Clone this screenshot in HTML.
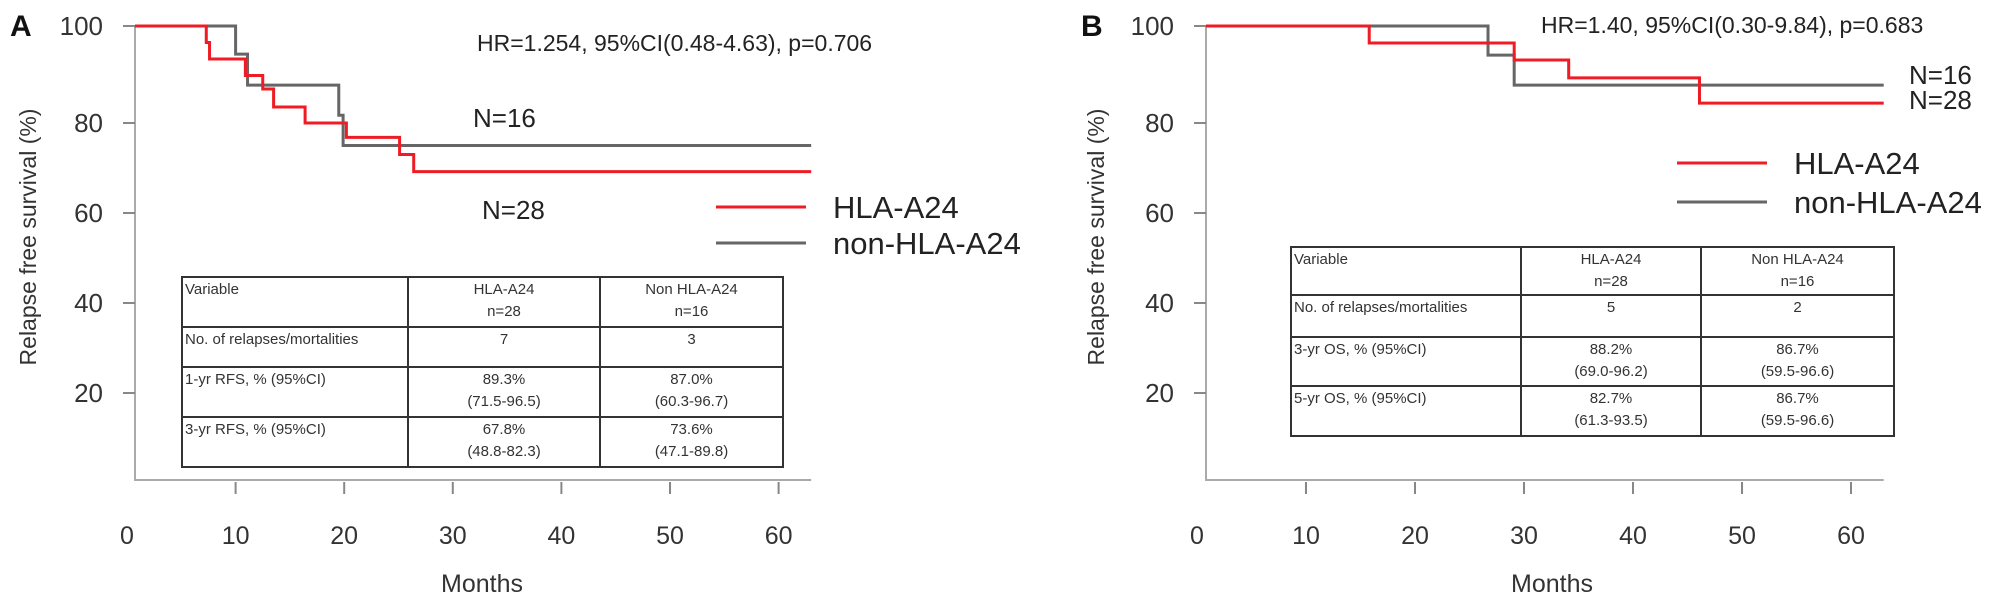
<!DOCTYPE html>
<html><head><meta charset="utf-8"><style>
html,body{margin:0;padding:0;background:#fff;}
svg{display:block;font-family:"Liberation Sans",sans-serif;}
</style></head><body>
<svg id="fig" width="2008" height="608" viewBox="0 0 2008 608" xmlns="http://www.w3.org/2000/svg"></svg>
<script>
// ---- data ----
const xTickLabels = [0,10,20,30,40,50,60];
const yTickLabels = [100,80,60,40,20];
// Panel A: step times (months) and survival (%)
const aRedTimes = [7.3,7.6,10.9,12.5,13.5,16.4,20.2,25.1,26.4];
const aRedSurv  = [96.6,93.2,89.8,87.0,83.3,80.0,76.8,73.0,69.2];
const aGreyTimes = [10.0,11.1,19.5,19.9];
const aGreySurv  = [94.2,87.8,81.6,75.0];
// Panel B
const bRedTimes = [15.8,29.1,34.1,46.1];
const bRedSurv  = [96.5,93.0,89.3,84.1];
const bGreyTimes = [26.7,29.1];
const bGreySurv  = [94.0,87.8];
const endTime = 63;
const aTable = [["Variable","HLA-A24|n=28","Non HLA-A24|n=16"],["No. of relapses/mortalities","7","3"],["1-yr RFS, % (95%CI)","89.3%|(71.5-96.5)","87.0%|(60.3-96.7)"],["3-yr RFS, % (95%CI)","67.8%|(48.8-82.3)","73.6%|(47.1-89.8)"]];
const bTable = [["Variable","HLA-A24|n=28","Non HLA-A24|n=16"],["No. of relapses/mortalities","5","2"],["3-yr OS, % (95%CI)","88.2%|(69.0-96.2)","86.7%|(59.5-96.6)"],["5-yr OS, % (95%CI)","82.7%|(61.3-93.5)","86.7%|(59.5-96.6)"]];

const NS="http://www.w3.org/2000/svg";
const svg=document.getElementById('fig');
function mk(tag,attrs,parent,text){const e=document.createElementNS(NS,tag);for(const k in attrs)e.setAttribute(k,attrs[k]);if(text!==undefined)e.textContent=text;(parent||svg).appendChild(e);return e;}
// y axis: piecewise between tick pixel positions
const yPix=[26,123,213,303,393];
function yScale(v){for(let i=0;i<yTickLabels.length-1;i++){const a=yTickLabels[i],b=yTickLabels[i+1];if(v<=a&&v>=b){return yPix[i]+(a-v)/(a-b)*(yPix[i+1]-yPix[i]);}}return yPix[4]+(20-v)*4.5;}

function panel(p){
  const g=mk('g',{});
  
  
  const xs=t=>p.x0+t*p.kx;
  const axisX=p.axisX;
  // label
  const L=mk('text',{x:p.letterX,y:36,'font-size':30,'font-weight':'bold',fill:'#111'},g,p.letter);
  
  // axes
  const ax=mk('path',{d:`M${axisX},${yPix[0]} V480 H${xs(endTime)}`,stroke:'#aaa','stroke-width':2,fill:'none'},g);
  
  yTickLabels.forEach(v=>{
    const y=yScale(v);
    mk('line',{x1:axisX-12,x2:axisX,y1:y,y2:y,stroke:'#888','stroke-width':2},g);
    const t=mk('text',{x:axisX-32,y:y+9,'font-size':26,'text-anchor':'end',fill:'#333'},g,String(v));
    
  });
  xTickLabels.forEach(v=>{
    const x=xs(v);
    if(v>0) mk('line',{x1:x,x2:x,y1:482,y2:494,stroke:'#888','stroke-width':2},g);
    const t=mk('text',{x:x,y:544,'font-size':25,'text-anchor':'middle',fill:'#333'},g,String(v));
    
  });
  const xt=mk('text',{x:p.monthsX,y:592,'font-size':25,'text-anchor':'middle',fill:'#333'},g,'Months');
  
  const yt=mk('text',{x:0,y:0,'font-size':23,'text-anchor':'middle',fill:'#333',transform:`translate(${p.ytitleX},237) rotate(-90)`},g,'Relapse free survival  (%)');
  
  // curves
  function curve(times,surv,color,nm){
    let x=axisX,d=`M${axisX},${yScale(100)}`;
    times.forEach((t,i)=>{d+=` H${xs(t)} V${yScale(surv[i])}`;});
    d+=` H${xs(endTime)}`;
    const c=mk('path',{d:d,stroke:color,'stroke-width':3,fill:'none'},g);
    
  }
  curve(p.greyT,p.greyS,'#666','non-hla-a24-curve');
  curve(p.redT,p.redS,'#ee1c25','hla-a24-curve');
  // HR text
  const hr=mk('text',{x:p.hrX,y:p.hrY,'font-size':23,fill:'#222'},g,p.hr);
  
  p.nlabels.forEach(n=>{const t=mk('text',{x:n[0],y:n[1],'font-size':26,fill:'#222'},g,n[2]);
    });
  // legend
  const lg=mk('g',{},g);
  [['#ee1c25','HLA-A24',p.legY[0]],['#666','non-HLA-A24',p.legY[1]]].forEach(e=>{
    const eg=mk('g',{},lg);
    mk('line',{x1:p.legX,x2:p.legX+90,y1:e[2],y2:e[2],stroke:e[0],'stroke-width':3},eg);
    mk('text',{x:p.legX+117,y:e[2]+11,'font-size':31,fill:'#222'},eg,e[1]);
  });
  // table
  const tb=mk('g',{},g);
  const cx=p.tcols, ry=p.trows;
  mk('rect',{x:cx[0],y:ry[0],width:cx[3]-cx[0],height:ry[4]-ry[0],fill:'#fff',stroke:'#333','stroke-width':2},tb);
  for(let i=1;i<4;i++) mk('line',{x1:cx[0],x2:cx[3],y1:ry[i],y2:ry[i],stroke:'#333','stroke-width':2},tb);
  for(let j=1;j<3;j++) mk('line',{x1:cx[j],x2:cx[j],y1:ry[0],y2:ry[4],stroke:'#333','stroke-width':2},tb);
  p.table.forEach((row,i)=>{row.forEach((cell,j)=>{
    cell.split('|').forEach((ln,k)=>{
      const attrs=j===0?{x:cx[0]+3,'text-anchor':'start'}:{x:(cx[j]+cx[j+1])/2,'text-anchor':'middle'};
      attrs.y=ry[i]+17+k*22;attrs['font-size']=15;attrs.fill='#333';
      const t=mk('text',attrs,tb,ln);
      
    });
  });});
}
panel({name:'panel-a',letter:'A',letterX:10,x0:127,kx:10.86,axisX:135,monthsX:482,ytitleX:36,
  redT:aRedTimes,redS:aRedSurv,greyT:aGreyTimes,greyS:aGreySurv,
  hr:'HR=1.254, 95%CI(0.48-4.63), p=0.706',hrX:477,hrY:51,
  nlabels:[[473,127,'N=16'],[482,219,'N=28']],legX:716,legY:[207,243],
  tcols:[182,408,600,783],trows:[277,327,367,417,467],table:aTable});
panel({name:'panel-b',letter:'B',letterX:1081,x0:1197,kx:10.9,axisX:1206,monthsX:1552,ytitleX:1104,
  redT:bRedTimes,redS:bRedSurv,greyT:bGreyTimes,greyS:bGreySurv,
  hr:'HR=1.40, 95%CI(0.30-9.84), p=0.683',hrX:1541,hrY:33,
  nlabels:[[1909,84],[1909,109]].map((a,i)=>[a[0],a[1],i?'N=28':'N=16']),legX:1677,legY:[163,202],
  tcols:[1291,1521,1701,1894],trows:[247,295,337,386,436],table:bTable});
</script>
</body></html>
